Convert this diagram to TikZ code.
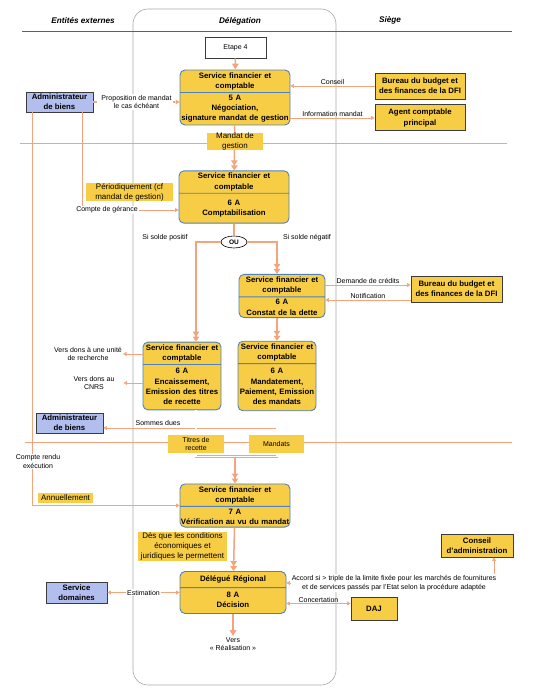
\documentclass[tikz,border=0pt]{standalone}
\usepackage{fontspec}
\setmainfont{Liberation Sans}
\usepackage{tikz}
\usetikzlibrary{arrows.meta, positioning, calc, shapes.geometric, shapes.multipart}

\definecolor{gold}{HTML}{F8CD46}
\definecolor{procblue}{HTML}{4F81BD}
\definecolor{lavblue}{HTML}{B1BEEE}
\definecolor{salmon}{HTML}{F4A47C}
\definecolor{boxgray}{HTML}{3C3C3C}
\definecolor{lanegray}{HTML}{A6A6A6}
\definecolor{headgray}{HTML}{606060}

\newcommand{\procfont}{\fontsize{7.8}{10.3}\selectfont\bfseries}
\newcommand{\lblfont}{\fontsize{7}{8.7}\selectfont}
\newcommand{\tagfont}{\fontsize{8}{9.8}\selectfont}
\newcommand{\headfont}{\fontsize{8.2}{10}\selectfont\bfseries\itshape}
\newcommand{\oufont}{\fontsize{6.5}{8}\selectfont\bfseries}
% invisible struts to give a box part some extra room
\newcommand{\uppad}[1]{\rule{0pt}{#1}}
\newcommand{\downpad}[1]{\rule[-#1]{0pt}{#1}}

\begin{document}
\begin{tikzpicture}[
    x=1pt, y=-1pt,
    proc/.style={rectangle split, rectangle split parts=2, draw=procblue, fill=gold, line width=0.9pt, rounded corners=5pt, align=center, font=\procfont, inner xsep=0pt, inner ysep=2pt},
    sbox/.style={draw=boxgray, fill=gold, line width=0.9pt, align=center, font=\procfont, inner sep=0pt},
    admin/.style={sbox, fill=lavblue},
    tagbox/.style={fill=gold, align=center, font=\tagfont, inner sep=0pt},
    lbl/.style={align=center, font=\lblfont, inner sep=1pt, text=black},
    lanehead/.style={font=\headfont},
    flow/.style={draw=salmon, line width=1.5pt, -{Triangle[width=6.5pt,length=5pt]Triangle[width=6.5pt,length=5pt]}},
    flowone/.style={draw=salmon, line width=1.5pt, -{Triangle[width=6.5pt,length=6pt]}},
    link/.style={draw=salmon, line width=0.7pt, -{Triangle[width=4pt,length=3.5pt]}},
    duplex/.style={draw=salmon, line width=0.7pt, {Triangle[width=4pt,length=3.5pt]}-{Triangle[width=4pt,length=3.5pt]}},
    joinline/.style={draw=salmon, line width=0.6pt, double=white, double distance=1.2pt}
]
\useasboundingbox (0,0) rectangle (550,697);

% lanes
\draw[lanegray, line width=0.6pt, rounded corners=15pt] (133,9) rectangle (336,685);
\draw[headgray, line width=0.8pt] (22,31) -- (512,31);
\draw[salmon, line width=1pt] (20,143) -- (507,143);
\draw[salmon, line width=1pt] (25,442) -- (512,442);

\node[lanehead] (hext) at (83,21) {Entités externes};
\node[lanehead] (hdel) at (240,21) {Délégation};
\node[lanehead] (hsie) at (390,20) {Siège};

% boxes
\node[sbox, fill=white, line width=0.7pt, font=\lblfont, minimum width=61pt, minimum height=21pt] (etape) at (235.5,47.5) {Etape 4};
\node[proc, text width=110pt] (s5) at (235,97.5) {Service financier et\\comptable \nodepart{two} 5 A\\Négociation,\\signature mandat de gestion};
\node[sbox, minimum width=90pt, minimum height=26pt] (bur1) at (420,86) {Bureau du budget et\\des finances de la DFI};
\node[sbox, minimum width=90pt, minimum height=26pt, below=5pt of bur1] (agent) {Agent comptable\\principal};
\node[admin, minimum width=67pt, minimum height=20pt] (adm1) at (59.5,102) {Administrateur\\de biens};

\node[proc, text width=110pt] (s6) at (234,197) {Service financier et\\comptable \nodepart{two} \uppad{9.4pt}6 A\\Comptabilisation\downpad{5.3pt}};
\node[draw, ellipse, fill=white, line width=0.6pt, minimum width=26pt, minimum height=12pt, inner sep=0pt, font=\oufont] (ou) at (234,242) {OU};
\node[proc, text width=86pt] (s6c) at (282,296) {Service financier et\\comptable \nodepart{two} 6 A\\Constat de la dette};
\node[sbox, minimum width=91pt, minimum height=26pt] (bur2) at (456.5,289) {Bureau du budget et\\des finances de la DFI};

\node[proc, text width=78pt] (s6e) at (182,376) {Service financier et\\comptable \nodepart{two} \uppad{6.8pt}6 A\\Encaissement,\\Emission des titres\\de recette\downpad{2.8pt}};
\node[proc, text width=78pt] (s6m) at (277,376) {Service financier et\\comptable \nodepart{two} \uppad{7.7pt}6 A\\Mandatement,\\Paiement, Emission\\des mandats\downpad{3.6pt}};
\node[admin, minimum width=67pt, minimum height=20pt] (adm2) at (69.5,423) {Administrateur\\de biens};
\node[lbl] (vdons) at (88,354) {Vers dons à une unité\\de recherche};
\node[lbl] (cnrs) at (94,383) {Vers dons au\\CNRS};

\node[proc, text width=110pt] (s7) at (235,505.5) {Service financier et\\comptable \nodepart{two} 7 A\\Vérification au vu du mandat};
\node[proc, text width=106pt] (s8) at (233,592.5) {\uppad{8pt}Délégué Régional\downpad{3.2pt} \nodepart{two} \uppad{7.4pt}8 A\\Décision\downpad{3.3pt}};
\node[sbox, minimum width=72pt, minimum height=23pt] (cadm) at (477,545.5) {Conseil\\d'administration};
\node[admin, minimum width=61pt, minimum height=21pt] (dom) at (76.5,592.5) {Service\\domaines};
\node[sbox, minimum width=46pt, minimum height=23pt] (daj) at (374,608.5) {DAJ};
\node[lbl] (vers) at (233,644) {Vers\\«~Réalisation~»};

% connectors
\coordinate (dem) at ($(bur2.west)+(0,-4)$);
\coordinate (ntf) at ($(bur2.west)+(0,11)$);
\coordinate (jn) at ($(s7.north)+(0,-27)$);
\coordinate (conc) at ($(daj.west)+(0,-5)$);
\coordinate (acc) at ($(s8.east)+(0,-9.5)$);

\draw[flowone] (etape) -- (s5);
\draw[link] (bur1.west) -- (bur1.west -| s5.east) node[lbl, midway, above] (conseil) {Conseil};
\draw[link] (s5.east |- agent.west) -- (agent.west) node[lbl, midway, above] (info) {Information mandat};
\draw[draw=salmon, line width=1.1pt, dash pattern=on 4pt off 2.5pt, -{Triangle[width=4.5pt,length=4pt]}] (adm1.east) -- (adm1.east -| s5.west)
    node[lbl, midway, fill=white] (prop) {Proposition de mandat\\le cas échéant};
\draw[flow] (s5) -- (s6);
\draw[link] ([xshift=22.5pt]adm1.south) |- ($(s6.west)+(0,13)$);
\draw[link] ([xshift=-27.5pt]adm1.south) |- (s7.west);

\draw[draw=salmon, line width=1.5pt] (s6) -- (ou);
\draw[flow] (ou.west) -| ([xshift=14pt]s6e.north);
\draw[flow] (ou.east) -| (s6m.north |- s6c.north);
\draw[link] (s6c.east |- dem) -- (dem) node[lbl, midway, above] (demande) {Demande de crédits};
\draw[link] (ntf) -- (s6c.east |- ntf) node[lbl, midway, above] (notif) {Notification};
\draw[flow] (s6c.south -| s6m.north) -- (s6m.north);

\draw[link] (s6e.west |- vdons) -- (vdons.east);
\draw[link] (s6e.west |- cnrs) -- ([xshift=8pt]cnrs.east);
\draw[link] (s6m.south) |- ($(adm2.east)+(0,5)$);
\draw[joinline] ([xshift=14pt]s6e.south) |- (jn) -| (s6m.south);
\draw[flow] (jn) -- (s7);

\draw[flow] (s7) -- (s8);
\draw[duplex] (dom) -- (dom -| s8.west) node[lbl, midway, fill=white] (estim) {Estimation};
\draw[duplex] (s8.east |- conc) -- (conc) node[lbl, midway, above] (concert) {Concertation};
\draw[duplex] (acc) -| ([xshift=17pt]cadm.south);
\draw[flowone] (s8) -- (vers);

% labels and tags
\node[tagbox, minimum width=56pt, minimum height=17pt] (mdg) at (235,141.5) {Mandat de\\gestion};
\node[tagbox, minimum width=87pt, minimum height=18pt] (perio) at (129.5,192) {Périodiquement (cf\\mandat de gestion)};
\node[lbl, fill=white] (gerance) at (107,210) {Compte de gérance};
\node[lbl] (spos) at (165,238) {Si solde positif};
\node[lbl] (sneg) at (307,238) {Si solde négatif};
\node[lbl] (sommes) at (158,423) {Sommes dues};
\node[tagbox, font=\lblfont, minimum width=56pt, minimum height=18pt] (titres) at (196,444) {Titres de\\recette};
\node[tagbox, font=\lblfont, minimum width=55pt, minimum height=18pt] (mdts) at (276.5,444) {Mandats};
\node[lbl, fill=white] (crendu) at (38,461.5) {Compte rendu\\exécution};
\node[tagbox, minimum width=55pt, minimum height=10pt] (annuel) at (65.5,498) {Annuellement};
\node[tagbox, minimum width=89pt, minimum height=29pt] (cond) at (182.5,546.5) {Dès que les conditions\\économiques et\\juridiques le permettent};
\node[lbl, fill=white] (accord) at (394,583) {Accord si > triple de la limite fixée pour les marchés de fournitures\\et de services passés par l'Etat selon la procédure adaptée};

\end{tikzpicture}
\end{document}
